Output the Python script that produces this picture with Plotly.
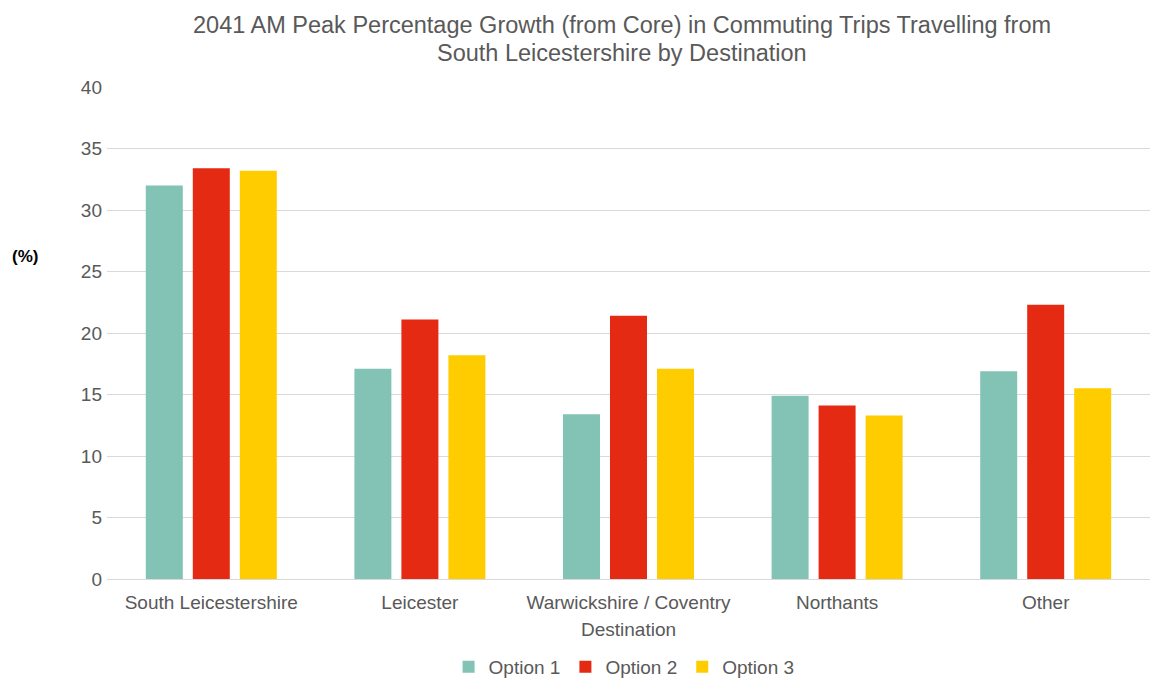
import plotly.graph_objects as go

categories = ["South Leicestershire", "Leicester", "Warwickshire / Coventry", "Northants", "Other"]
option1 = [32.0, 17.1, 13.4, 14.9, 16.9]
option2 = [33.4, 21.1, 21.4, 14.1, 22.3]
option3 = [33.2, 18.2, 17.1, 13.3, 15.5]
series_names = ["Option 1", "Option 2", "Option 3"]
colors = ["#82C3B5", "#E52A14", "#FFCC00"]
title_lines = ["2041 AM Peak Percentage Growth (from Core) in Commuting Trips Travelling from",
               "South Leicestershire by Destination"]

fig = go.Figure()
for name, vals, c in zip(series_names, [option1, option2, option3], colors):
    fig.add_trace(go.Bar(name=name, x=categories, y=vals, marker=dict(color=c, line=dict(width=0))))

font_family = "Liberation Sans, Arial, sans-serif"
gray = "#595959"
fig.update_layout(
    width=1160, height=686,
    barmode="group", bargap=0.324, bargroupgap=0.213,
    plot_bgcolor="white", paper_bgcolor="white",
    margin=dict(l=107, r=10, t=87, b=107, autoexpand=False),
    font=dict(family=font_family, color=gray, size=19),
    legend=dict(orientation="h", xref="container", yref="container",
                x=0.538, xanchor="center", y=-0.01, yanchor="bottom",
                font=dict(size=19, color=gray), itemwidth=30, tracegroupgap=0),
    xaxis=dict(title=dict(text="Destination", font=dict(size=19, color=gray), standoff=10),
               showline=True, linecolor="#d9d9d9", linewidth=1, ticks="", tickfont=dict(size=19),
               automargin=False, ticklabelstandoff=6),
    yaxis=dict(range=[0, 40], dtick=5, showgrid=True, gridcolor="#d9d9d9", gridwidth=1,
               zeroline=False, ticks="", tickfont=dict(size=19), automargin=False,
               ticklabelstandoff=4),
)
for line, ypix in zip(title_lines, [25, 53]):
    fig.add_annotation(
        text=line, xref="paper", yref="paper", x=0.494, y=(579 - ypix) / 492,
        xanchor="center", yanchor="middle",
        showarrow=False, font=dict(size=23.5, color=gray, family=font_family))
fig.add_annotation(text="<b>(%)</b>", xref="paper", yref="paper", x=-0.0786, y=0.656,
                   xanchor="center", yanchor="middle", showarrow=False,
                   font=dict(size=17, color="#000000", family=font_family))
fig.write_html("out.html")
